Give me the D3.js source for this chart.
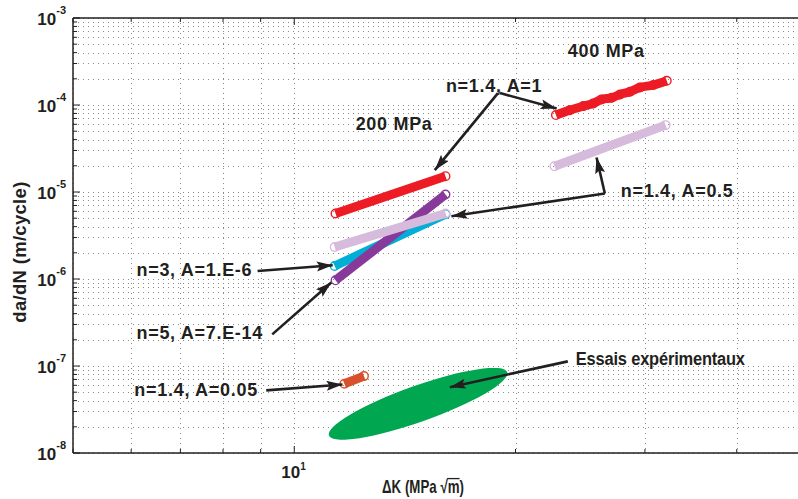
<!DOCTYPE html>
<html>
<head>
<meta charset="utf-8">
<script src="https://cdn.jsdelivr.net/npm/d3@7"></script>
<style>
  body { margin: 0; background: #fff; }
  text { font-family: "Liberation Sans", Arial, sans-serif; font-weight: bold; fill: #231f20; }
</style>
</head>
<body>
<div id="graf"></div>
<script>
// Paris-law curves, [dK (MPa sqrt m), da/dN (m/cycle)]
var red200 = [[11.38, 5.66e-6], [16.06, 1.52e-5]];
var cyan200 = [[11.35, 1.41e-6], [16.06, 5.56e-6]];
var purple200 = [[11.38, 9.66e-7], [16.06, 9.36e-6]];
var lilac200 = [[11.35, 2.33e-6], [16.06, 5.66e-6]];
var red400 = [
  [22.70, 7.66e-5], [23.71, 8.73e-5], [24.73, 9.71e-5], [25.51, 1.043e-4],
  [26.19, 1.160e-4], [27.03, 1.21e-4], [27.75, 1.324e-4], [28.63, 1.419e-4],
  [29.54, 1.594e-4], [30.80, 1.694e-4], [32.12, 1.899e-4]
];
var lilac400 = [[22.6, 1.98e-5], [32.0, 5.87e-5]];
var orange200 = [[11.7, 6.25e-8], [12.44, 7.65e-8]];

// experimental cloud: the two ends of the ellipse
var essais = [[11.15, 1.59e-8], [19.49, 8.5e-8]];

var xDomain = [5, 50];
var yDomain = [1e-8, 1e-3];
var yTickExp = [-3, -4, -5, -6, -7, -8];

// labels and arrows, in data coordinates
var labels = [
  { text: "400 MPa", x: 23.56, y: 3.56e-4 },
  { text: "200 MPa", x: 12.12, y: 5.14e-5 },
  { text: "n=1.4, A=1", x: 16.08, y: 1.419e-4 },
  { text: "n=1.4, A=0.5", x: 27.81, y: 8.65e-6 },
  { text: "n=3, A=1.E-6", x: 6.10, y: 1.074e-6 },
  { text: "n=5, A=7.E-14", x: 6.10, y: 2.06e-7 },
  { text: "n=1.4, A=0.05", x: 6.06, y: 4.47e-8 },
  { text: "Essais expérimentaux", x: 24.16, y: 1.04e-7, narrow: true }
];
var arrows = [
  [[18.93, 1.371e-4], [15.53, 1.782e-5]],
  [[19.05, 1.371e-4], [22.75, 9.14e-5]],
  [[26.46, 9.61e-6], [25.78, 2.49e-5]],
  [[26.46, 9.61e-6], [16.36, 5.27e-6]],
  [[8.915, 1.236e-6], [11.28, 1.439e-6]],
  [[9.333, 2.31e-7], [11.23, 9.1e-7]],
  [[9.16, 5.24e-8], [11.63, 6.14e-8]],
  [[23.56, 1.13e-7], [16.28, 5.71e-8]]
];

const W = 798, H = 499;
const margin = { top: 18, left: 73, bottom: 46 };

const svg = d3.select("#graf")
  .append("svg")
  .attr("width", W)
  .attr("height", H);

const x = d3.scaleLog().domain(xDomain).range([margin.left, 808]);
const y = d3.scaleLog().domain(yDomain).range([H - margin.bottom, margin.top]);

const x0 = margin.left, x1 = 808, y0 = y.range()[0], y1 = y.range()[1];

// grid
const xGrid = [5, 6, 7, 8, 9, 10, 20, 30, 40, 50];
const yGrid = [];
for (let e = -8; e < -3; e++) {
  for (let k = 1; k < 10; k++) yGrid.push(k * Math.pow(10, e));
}
yGrid.push(1e-3);

const grid = svg.append("g")
  .attr("stroke", "#8a8a8a")
  .attr("stroke-width", 1)
  .attr("stroke-dasharray", "1,4");

grid.selectAll("line.v").data(xGrid).enter().append("line")
  .attr("x1", d => Math.round(x(d)) + 0.5).attr("x2", d => Math.round(x(d)) + 0.5)
  .attr("y1", y1).attr("y2", y0);
grid.selectAll("line.h").data(yGrid).enter().append("line")
  .attr("y1", d => Math.round(y(d)) + 0.5).attr("y2", d => Math.round(y(d)) + 0.5)
  .attr("x1", x0).attr("x2", x1);

// axes box (left, bottom, top)
const axes = svg.append("g").attr("stroke", "#231f20");
axes.append("line").attr("x1", x0).attr("x2", x0).attr("y1", y1).attr("y2", y0).attr("stroke-width", 1.5);
axes.append("line").attr("x1", x0).attr("x2", x1).attr("y1", y0).attr("y2", y0).attr("stroke-width", 1.5);
axes.append("line").attr("x1", x0).attr("x2", x1).attr("y1", y1).attr("y2", y1).attr("stroke-width", 1.5);

// ticks, inward
axes.selectAll("line.yt").data(yGrid).enter().append("line")
  .attr("x1", x0).attr("x2", d => x0 + (Math.abs(Math.log10(d) % 1) < 1e-9 ? 7 : 4))
  .attr("y1", d => y(d)).attr("y2", d => y(d));
axes.selectAll("line.xt").data(xGrid).enter().append("line")
  .attr("x1", d => x(d)).attr("x2", d => x(d))
  .attr("y1", y0).attr("y2", d => y0 - (d === 10 ? 7 : 4));
axes.selectAll("line.xt2").data(xGrid).enter().append("line")
  .attr("x1", d => x(d)).attr("x2", d => x(d))
  .attr("y1", y1).attr("y2", d => y1 + (d === 10 ? 7 : 4));

// tick labels
const yl = svg.selectAll("text.yl").data(yTickExp).enter().append("text")
  .attr("text-anchor", "end")
  .attr("x", x0 - 7)
  .attr("y", d => y(Math.pow(10, d)) + 7)
  .style("font-size", "17px");
yl.append("tspan").text("10");
yl.append("tspan").attr("dy", -11).style("font-size", "11px").text(d => d);

const xl = svg.append("text")
  .attr("x", x(10) - 13)
  .attr("y", y0 + 25)
  .style("font-size", "17px");
xl.append("tspan").text("10");
xl.append("tspan").attr("dy", -8).style("font-size", "10px").text("1");

// axis titles
svg.append("text")
  .attr("transform", `translate(26,252) rotate(-90)`)
  .attr("text-anchor", "middle")
  .style("font-size", "18.5px")
  .style("letter-spacing", "0.3px")
  .text("da/dN (m/cycle)");

// x title, condensed by a horizontal squeeze
const xtg = svg.append("g").attr("transform", "translate(382,493) scale(0.74,1)");
const xt = xtg.append("text")
  .style("font-size", "18px");
xt.append("tspan").text("\u0394K (MPa ");
const root = xt.append("tspan").text("\u221Am");
xt.append("tspan").text(")");

// overline of the root sign
const c0 = root.node().getExtentOfChar(0);
const c1 = root.node().getExtentOfChar(1);
xtg.append("line")
  .attr("x1", c0.x + c0.width - 0.8)
  .attr("x2", c1.x + c1.width)
  .attr("y1", c0.y + 1.5).attr("y2", c0.y + 1.5)
  .attr("stroke", "#231f20").attr("stroke-width", 1.3);

// experimental ellipse
const pA = [x(essais[0][0]), y(essais[0][1])];
const pB = [x(essais[1][0]), y(essais[1][1])];
const ang = Math.atan2(pB[1] - pA[1], pB[0] - pA[0]) * 180 / Math.PI;
svg.append("ellipse")
  .attr("cx", (pA[0] + pB[0]) / 2)
  .attr("cy", (pA[1] + pB[1]) / 2)
  .attr("rx", Math.hypot(pB[0] - pA[0], pB[1] - pA[1]) / 2)
  .attr("ry", 18)
  .attr("transform", `rotate(${ang},${(pA[0] + pB[0]) / 2},${(pA[1] + pB[1]) / 2})`)
  .attr("fill", "#00a650");

// curves
const line = d3.line().x(d => x(d[0])).y(d => y(d[1])).curve(d3.curveCatmullRom);
const series = [
  { data: red200, color: "#ed1c24" },
  { data: cyan200, color: "#00aed6" },
  { data: purple200, color: "#873a9a" },
  { data: lilac200, color: "#d6bbdd" },
  { data: red400, color: "#ed1c24" },
  { data: lilac400, color: "#d6bbdd" },
  { data: orange200, color: "#d9512c" }
];

series.forEach(s => {
  const g = svg.append("g");
  g.append("path")
    .datum(s.data)
    .attr("d", line)
    .attr("fill", "none")
    .attr("stroke", s.color)
    .attr("stroke-width", 9)
    .attr("stroke-linejoin", "round")
    .attr("stroke-linecap", "butt");
  g.selectAll("circle").data(s.data).enter().append("circle")
    .attr("cx", d => x(d[0]))
    .attr("cy", d => y(d[1]))
    .attr("r", 4.3)
    .attr("fill", "none")
    .attr("stroke", s.color)
    .attr("stroke-width", 1.4);
});

// arrows
svg.append("defs").append("marker")
  .attr("id", "head")
  .attr("markerUnits", "userSpaceOnUse")
  .attr("markerWidth", 18).attr("markerHeight", 12)
  .attr("refX", 16).attr("refY", 5)
  .attr("orient", "auto")
  .append("path")
  .attr("d", "M0,0 L16,5 L0,10 L3,5 Z")
  .attr("fill", "#231f20");

svg.selectAll("line.arrow").data(arrows).enter().append("line")
  .attr("x1", d => x(d[0][0])).attr("y1", d => y(d[0][1]))
  .attr("x2", d => x(d[1][0])).attr("y2", d => y(d[1][1]))
  .attr("stroke", "#231f20")
  .attr("stroke-width", 2.6)
  .attr("marker-end", "url(#head)");

// annotation labels
svg.selectAll("text.lab").data(labels).enter().append("text")
  .attr("x", d => x(d.x))
  .attr("y", d => y(d.y))
  .style("font-size", "18px")
  .style("letter-spacing", d => d.narrow ? "-0.2px" : "0.7px")
  .attr("textLength", d => d.narrow ? 169 : null)
  .attr("lengthAdjust", "spacingAndGlyphs")
  .text(d => d.text);
</script>
</body>
</html>
